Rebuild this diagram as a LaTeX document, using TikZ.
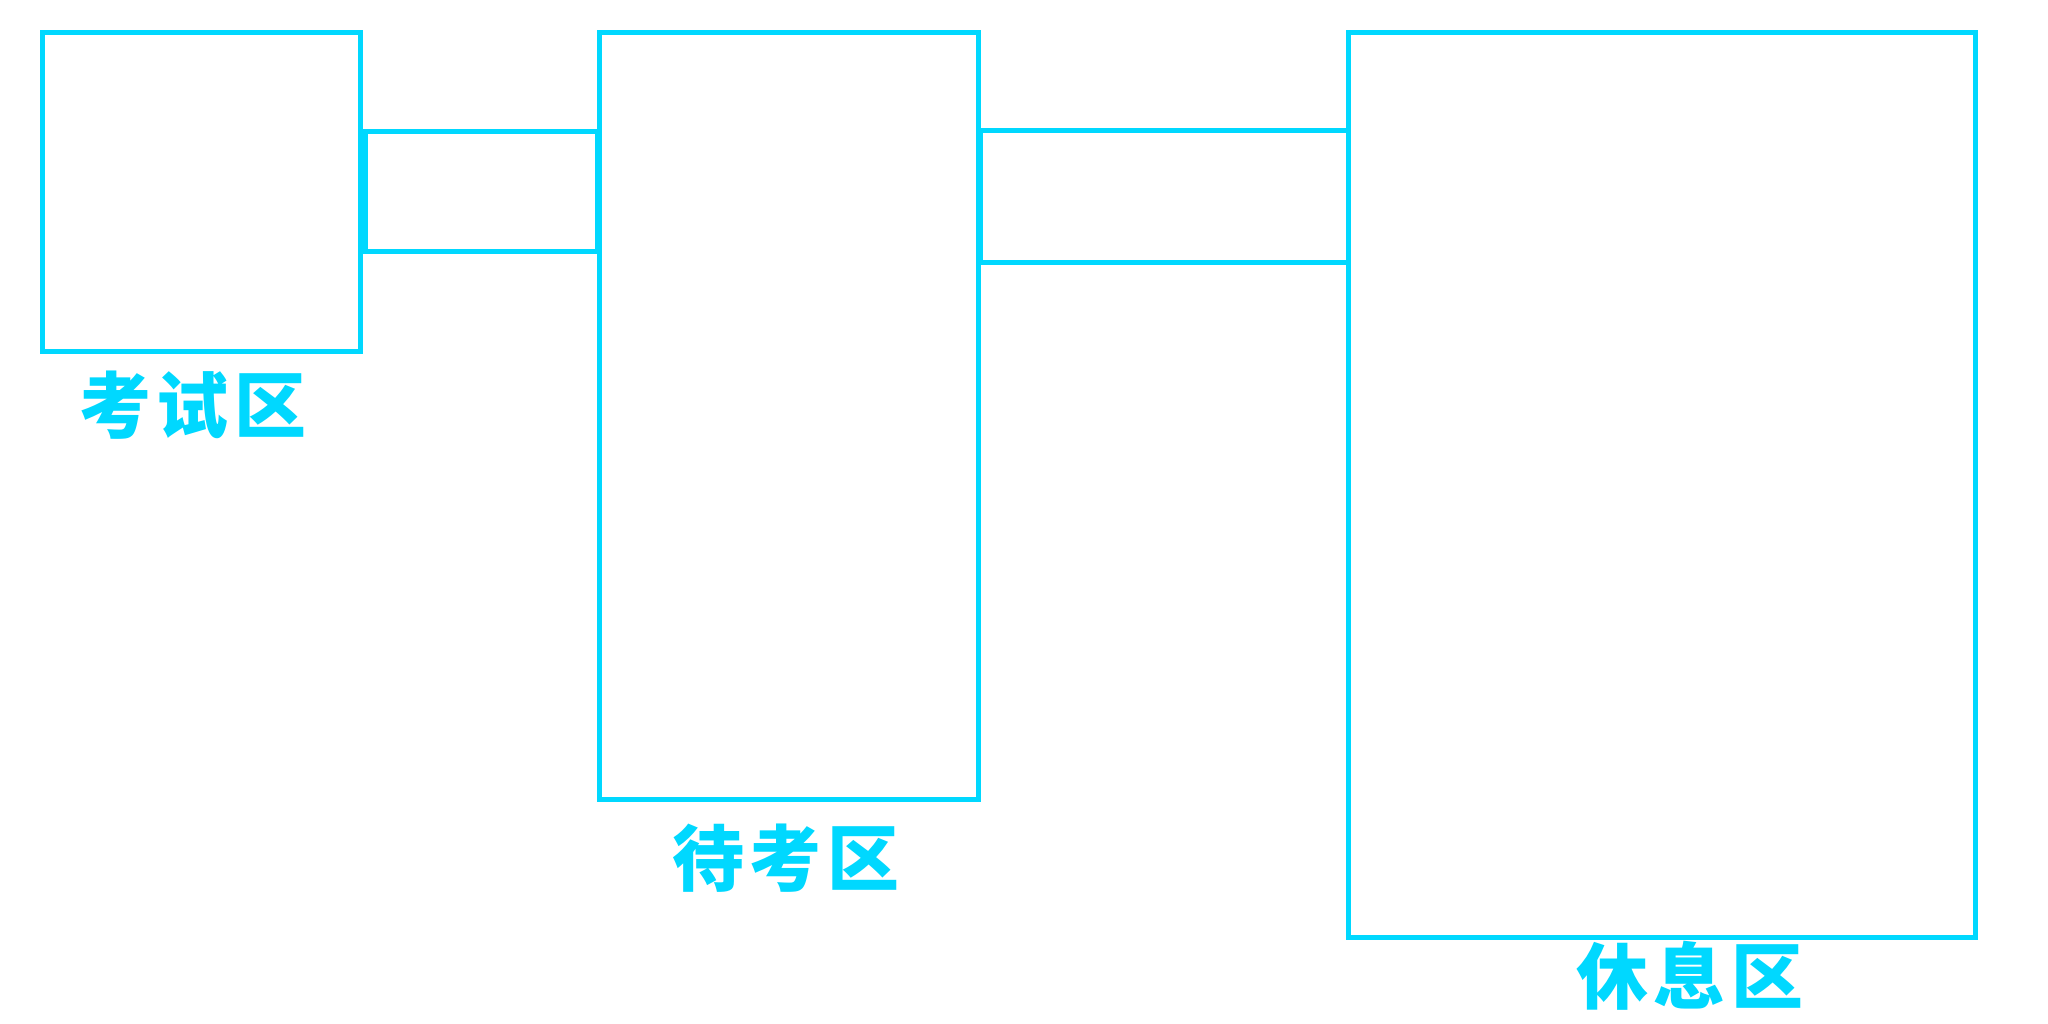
\documentclass[tikz,border=0pt]{standalone}
\usepackage{fontspec}
\newfontfamily\zonefont[LetterSpace=8]{Noto Sans CJK SC}
\usepackage{tikz}
\usetikzlibrary{
  calc,
  positioning
}
\definecolor{zonecyan}{RGB}{0,216,255}

\begin{document}
\begin{tikzpicture}[x=1pt,y=-1pt,
    zone/.style={draw=zonecyan,line width=5pt,inner sep=0,outer sep=0},
    zonelabel/.style={text=zonecyan,inner sep=0,font=\zonefont\bfseries\fontsize{72}{72}\selectfont}]
                  \useasboundingbox (0,0) rectangle (2048,1024);
                  \node[zone,minimum width=318,minimum height=318] (E) at (201, 192) {};
                  \node[zone,minimum width=379,minimum height=766] (W) at (788.5, 416) {};
                  \node[zone,minimum width=627,minimum height=904] (R) at (1661.5, 485) {};

                  % corridors between the zones
                  \draw[zone] ($(E.east) + (5, -60)$) rectangle ($(W.west |- E.east) + (-2, 60)$);
                  \draw[zone] ($(W.east) + (2, -285)$) rectangle ($(R.west) + (0, -222)$);

                  \node[zonelabel] (EL) at (193, 405) {考试区};
                  \node[zonelabel] (WL) at (786, 858) {待考区};
                  \node[zonelabel] (RL) at (1690, 976) {休息区};
                \end{tikzpicture}
\end{document}
